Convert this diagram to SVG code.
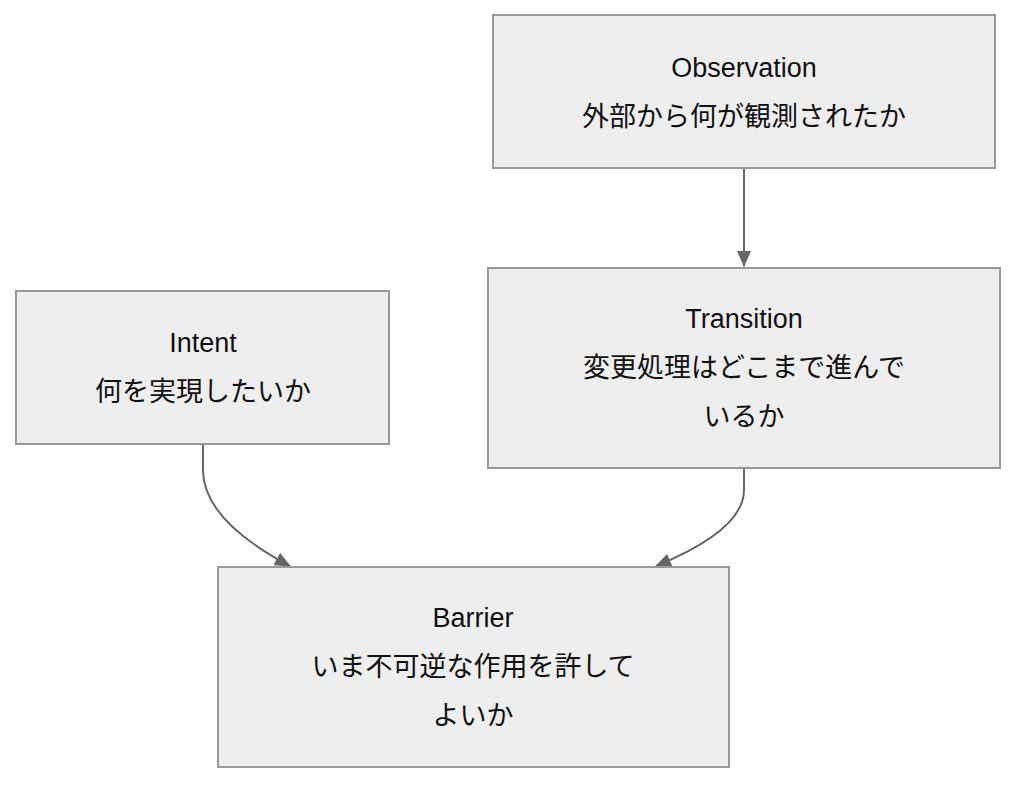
<svg xmlns="http://www.w3.org/2000/svg" width="1032" height="796" viewBox="0 0 1032 796">
<style>
.n{fill:#eeeeee;stroke:#999999;stroke-width:2}
.t{font-family:"Liberation Sans","Noto Sans CJK JP",sans-serif;font-size:27px;fill:#111;text-anchor:middle}
.e{fill:none;stroke:#666666;stroke-width:2}
</style>
<defs><marker id="a" markerWidth="10" markerHeight="10" refX="9" refY="5" orient="auto" markerUnits="userSpaceOnUse"><path d="M0,0 L10,5 L0,10 z" fill="#666666"/></marker>
<marker id="b" markerWidth="16" markerHeight="14" refX="15" refY="7" orient="auto" markerUnits="userSpaceOnUse"><path d="M0,0 L16,7 L0,14 z" fill="#666666"/></marker></defs>
<g id="edges">
<path class="e" d="M744,168 L744,266" marker-end="url(#b)"/>
<path class="e" d="M203,444 L203,470 Q203,520 290,566" marker-end="url(#b)"/>
<path class="e" d="M744,468 L744,490 Q744,530 656,566" marker-end="url(#b)"/>
</g>
<g id="observation"><rect class="n" x="493" y="15" width="502" height="153"/><text class="t" x="744" y="77">Observation</text><text class="t" x="744" y="126">外部から何が観測されたか</text></g>
<g id="transition"><rect class="n" x="488" y="268" width="512" height="200"/><text class="t" x="744" y="328">Transition</text><text class="t" x="744" y="377">変更処理はどこまで進んで</text><text class="t" x="744" y="426">いるか</text></g>
<g id="intent"><rect class="n" x="16" y="291" width="373" height="153"/><text class="t" x="203" y="352">Intent</text><text class="t" x="203" y="401">何を実現したいか</text></g>
<g id="barrier"><rect class="n" x="218" y="567" width="511" height="200"/><text class="t" x="473" y="627">Barrier</text><text class="t" x="473" y="676">いま不可逆な作用を許して</text><text class="t" x="473" y="725">よいか</text></g>
</svg>
